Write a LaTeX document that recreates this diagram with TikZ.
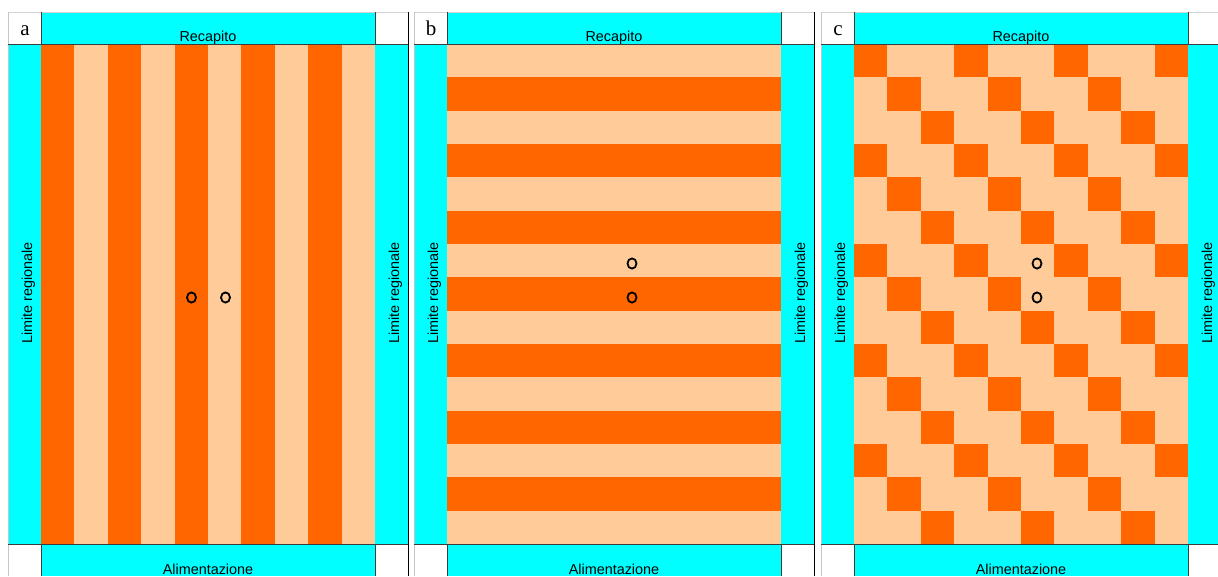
\documentclass[tikz,border=0pt]{standalone}
\usepackage{fontspec}
\setmainfont{Liberation Serif}
\setsansfont{Liberation Sans}
\usetikzlibrary{shapes.geometric}
\definecolor{Aqua}{HTML}{00FFFF}
\definecolor{Deep}{HTML}{FF6600}
\definecolor{Pale}{HTML}{FFCC99}
\definecolor{Rule}{HTML}{3C3C3C}
\newcommand{\CellW}{33.4}
\newcommand{\CellH}{33.3333}
% one dark cell: grid left edge, column, row
\newcommand{\DarkCell}[3]{%
  \fill[Deep] ({#1+\CellW*#2},{44+\CellH*#3}) rectangle ++(\CellW,\CellH);%
}
% cyan bands and pale field of a panel whose left edge is #1
\newcommand{\PanelBase}[1]{%
  \fill[Aqua] ({#1+33},12) rectangle ({#1+367},44);
  \fill[Aqua] ({#1+33},544) rectangle ({#1+367},576);
  \fill[Aqua] (#1,44) rectangle ({#1+33},544);
  \fill[Aqua] ({#1+367},44) rectangle ({#1+400},544);
  \fill[Pale] ({#1+33},44) rectangle ({#1+367},544);%
}
% rules and texts: left edge, letter, name
\newcommand{\PanelTop}[3]{%
  \draw[gray!35] (#1,12) -- ({#1+400},12);
  \draw[gray!45] (#1,12) -- (#1,576);
  \draw[black,line width=1pt] ({#1+400},12) -- ({#1+400},576);
  \draw[Rule,line width=0.9pt] (#1,44) -- ({#1+400},44);
  \draw[Rule,line width=0.9pt] (#1,544) -- ({#1+400},544);
  \foreach \xx in {33,367} {
    \draw[Rule,line width=0.9pt] ({#1+\xx},12) -- ({#1+\xx},44);
    \draw[Rule,line width=0.9pt] ({#1+\xx},544) -- ({#1+\xx},576);
  }
  \node[letter] (lab-#3) at ({#1+17},35) {#2};
  \node[band] (rec-#3) at ({#1+200},41) {Recapito};
  \node[band] (ali-#3) at ({#1+200},574) {Alimentazione};
  \node[band,rotate=90] (liml-#3) at ({#1+24},293) {Limite regionale};
  \node[band,rotate=90] (limr-#3) at ({#1+391},293) {Limite regionale};%
}

\begin{document}
\begin{tikzpicture}[x=1pt,y=-1pt,
  band/.style={anchor=base,inner sep=0pt,font=\sffamily\fontsize{14.4}{16}\selectfont},
  letter/.style={anchor=base,inner sep=0pt,font=\rmfamily\fontsize{21}{24}\selectfont},
  ring/.style={draw=black,ellipse,line width=1.8pt,inner sep=0pt,minimum width=9pt,minimum height=10.2pt}]
\useasboundingbox (0,0) rectangle (1218,576);
\clip (0,0) rectangle (1218,576);
% panel a: vertical stripes
\PanelBase{8}
\foreach \col in {0,2,...,8} {
  \foreach \row in {0,...,14} {\DarkCell{41}{\col}{\row}}
}
\PanelTop{8}{a}{a}
\node[ring] (a-o1) at (191.5,297.5) {};
\node[ring] (a-o2) at (225.5,297.5) {};
% panel b: horizontal stripes
\PanelBase{414}
\foreach \row in {1,3,...,13} {
  \foreach \col in {0,...,9} {\DarkCell{447}{\col}{\row}}
}
\PanelTop{414}{b}{b}
\node[ring] (b-o1) at (632,263.5) {};
\node[ring] (b-o2) at (632,297.5) {};
% panel c: diagonal cells
\PanelBase{821}
\foreach \row in {0,...,14} {
  \foreach \k in {0,...,3} {
    \pgfmathtruncatemacro{\col}{mod(\row,3)+3*\k}
    \ifnum\col<10 \DarkCell{854}{\col}{\row}\fi
  }
}
\PanelTop{821}{c}{c}
\node[ring] (c-o1) at (1037,263.5) {};
\node[ring] (c-o2) at (1037,297.5) {};
\end{tikzpicture}
\end{document}
